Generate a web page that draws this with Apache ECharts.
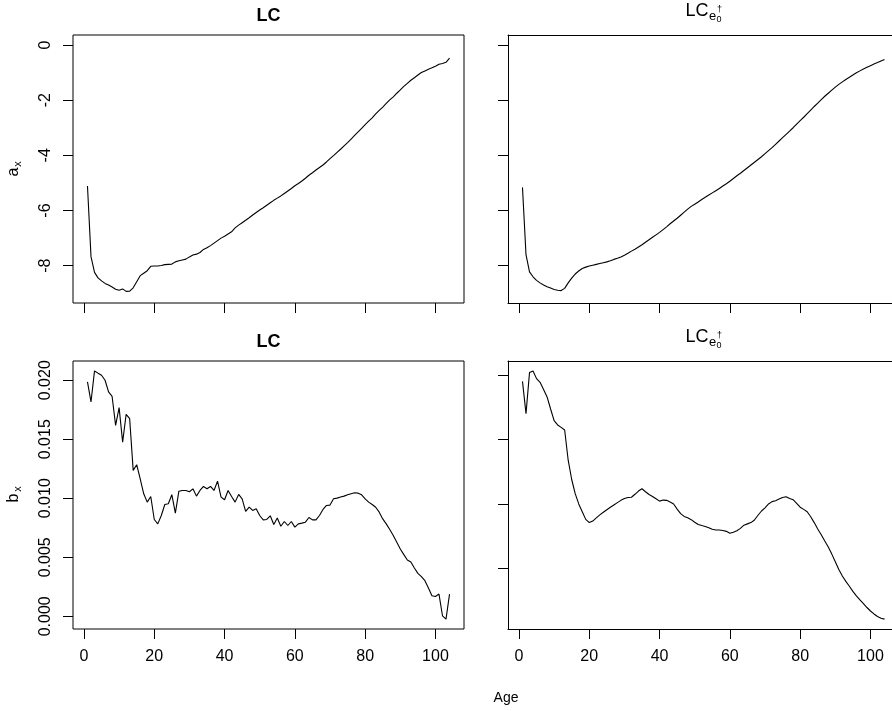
<!DOCTYPE html>
<html>
<head>
<meta charset="utf-8">
<script src="https://cdn.jsdelivr.net/npm/echarts@6/dist/echarts.min.js"></script>
<style>html,body{margin:0;padding:0;background:#fff;}#c{width:892px;height:711px;}</style>
</head>
<body>
<div id="c"></div>
<script>
var ages = [];
for (var i = 1; i <= 104; i++) ages.push(i);

var xTicks = [0, 20, 40, 60, 80, 100];
var axTicks = [0, -2, -4, -6, -8];
var bxTicks = [0.000, 0.005, 0.010, 0.015, 0.020];

var axLC = [-5.11,-7.67,-8.24,-8.44,-8.55,-8.64,-8.70,-8.77,-8.85,-8.89,
-8.84,-8.93,-8.92,-8.80,-8.58,-8.36,-8.27,-8.18,-8.02,-8.01,
-8.01,-7.99,-7.96,-7.95,-7.94,-7.86,-7.82,-7.79,-7.76,-7.68,
-7.61,-7.58,-7.52,-7.41,-7.35,-7.27,-7.18,-7.09,-7.00,-6.93,
-6.85,-6.77,-6.63,-6.53,-6.44,-6.35,-6.26,-6.16,-6.07,-5.98,
-5.90,-5.81,-5.72,-5.63,-5.55,-5.47,-5.38,-5.29,-5.20,-5.10,
-5.02,-4.93,-4.83,-4.72,-4.63,-4.53,-4.44,-4.35,-4.24,-4.12,
-4.01,-3.89,-3.78,-3.66,-3.54,-3.41,-3.28,-3.15,-3.02,-2.89,
-2.76,-2.64,-2.50,-2.37,-2.25,-2.12,-1.99,-1.88,-1.75,-1.63,
-1.50,-1.39,-1.28,-1.19,-1.09,-1.00,-0.94,-0.88,-0.83,-0.77,
-0.70,-0.67,-0.63,-0.48];

var axLCe = [-5.16,-7.60,-8.22,-8.40,-8.53,-8.62,-8.70,-8.76,-8.81,-8.86,
-8.89,-8.90,-8.82,-8.62,-8.45,-8.30,-8.19,-8.10,-8.05,-8.01,
-7.98,-7.95,-7.92,-7.89,-7.86,-7.82,-7.77,-7.73,-7.68,-7.62,
-7.55,-7.47,-7.40,-7.32,-7.24,-7.15,-7.06,-6.97,-6.88,-6.79,
-6.69,-6.59,-6.48,-6.38,-6.28,-6.17,-6.06,-5.95,-5.85,-5.77,
-5.69,-5.60,-5.52,-5.44,-5.36,-5.28,-5.20,-5.11,-5.03,-4.94,
-4.84,-4.74,-4.65,-4.55,-4.45,-4.35,-4.25,-4.15,-4.05,-3.94,
-3.83,-3.72,-3.60,-3.48,-3.36,-3.24,-3.12,-3.00,-2.87,-2.74,
-2.62,-2.49,-2.36,-2.23,-2.11,-1.98,-1.86,-1.75,-1.64,-1.53,
-1.43,-1.34,-1.25,-1.17,-1.09,-1.01,-0.94,-0.87,-0.81,-0.75,
-0.69,-0.64,-0.58,-0.53];

var bxLC = [0.01986,0.01816,0.02079,0.02060,0.02042,0.02000,0.01901,0.01864,0.01618,0.01768,
0.01476,0.01711,0.01675,0.01236,0.01284,0.01165,0.01038,0.00967,0.01015,0.00820,
0.00783,0.00854,0.00947,0.00953,0.01030,0.00874,0.01060,0.01066,0.01066,0.01055,
0.01080,0.01018,0.01066,0.01100,0.01080,0.01100,0.01066,0.01145,0.01010,0.00987,
0.01066,0.01015,0.00967,0.01032,0.00995,0.00888,0.00925,0.00897,0.00910,0.00854,
0.00817,0.00820,0.00851,0.00778,0.00832,0.00763,0.00803,0.00769,0.00803,0.00755,
0.00783,0.00789,0.00797,0.00837,0.00817,0.00817,0.00854,0.00905,0.00939,0.00942,
0.00995,0.01001,0.01010,0.01018,0.01029,0.01038,0.01046,0.01043,0.01029,0.00995,
0.00967,0.00947,0.00924,0.00882,0.00825,0.00783,0.00735,0.00684,0.00627,0.00570,
0.00522,0.00477,0.00460,0.00409,0.00363,0.00335,0.00301,0.00239,0.00174,0.00168,
0.00188,0.00004,-0.00024,0.00188];

var bxLCe = [0.01953,0.01702,0.02021,0.02034,0.01974,0.01945,0.01890,0.01832,0.01738,0.01648,
0.01614,0.01595,0.01575,0.01340,0.01190,0.01080,0.01000,0.00940,0.00880,0.00855,
0.00867,0.00892,0.00915,0.00935,0.00955,0.00974,0.00992,0.01010,0.01028,0.01042,
0.01050,0.01052,0.01075,0.01100,0.01118,0.01095,0.01073,0.01058,0.01040,0.01022,
0.01030,0.01028,0.01015,0.01000,0.00960,0.00925,0.00903,0.00892,0.00878,0.00858,
0.00840,0.00832,0.00825,0.00815,0.00803,0.00797,0.00797,0.00793,0.00787,0.00772,
0.00780,0.00792,0.00810,0.00835,0.00845,0.00855,0.00875,0.00912,0.00945,0.00970,
0.01000,0.01018,0.01025,0.01038,0.01050,0.01056,0.01043,0.01033,0.01005,0.00975,
0.00958,0.00939,0.00900,0.00855,0.00805,0.00760,0.00712,0.00665,0.00610,0.00550,
0.00490,0.00440,0.00398,0.00360,0.00320,0.00285,0.00255,0.00225,0.00195,0.00168,
0.00145,0.00125,0.00112,0.00105];

var FONT = '"Liberation Sans", Arial, Helvetica, sans-serif';
var TICKFS = 16;
var PX_PER_YEAR = 391 / 111.24;
var XMIN = -3.12;
var XMAX_L = 108.12;
var XMAX_R = XMIN + 384 / PX_PER_YEAR;   // right panels are cut by the page edge

function pairs(vals) { return ages.map(function (a, i) { return [a, vals[i]]; }); }

function grid(left, top, width, border) {
  return { left: left, top: top, width: width, height: 268, show: border,
    borderColor: '#000', borderWidth: border ? 1 : 0, backgroundColor: 'transparent',
    containLabel: false, outerBoundsMode: 'none' };
}

var lineBlack = { show: true, onZero: false, lineStyle: { color: '#000', width: 1 } };

function xAx(gi, max, showLabels, showLine) {
  return { type: 'value', gridIndex: gi, min: XMIN, max: max, position: 'bottom',
    axisLine: showLine ? lineBlack : { show: false, onZero: false },
    splitLine: { show: false },
    axisTick: { show: true, inside: false, length: 10, customValues: xTicks, lineStyle: { color: '#000', width: 1 } },
    axisLabel: { show: showLabels, customValues: xTicks, margin: 20, color: '#000', fontSize: TICKFS, fontFamily: FONT } };
}

function xTop(gi, max) {
  return { type: 'value', gridIndex: gi, min: XMIN, max: max, position: 'top',
    axisLine: lineBlack, splitLine: { show: false },
    axisTick: { show: false }, axisLabel: { show: false } };
}

function yAx(gi, min, max, ticks, showLabels, fmt, showLine) {
  return { type: 'value', gridIndex: gi, min: min, max: max, position: 'left',
    axisLine: showLine ? lineBlack : { show: false, onZero: false },
    splitLine: { show: false },
    axisTick: { show: true, inside: false, length: 10, customValues: ticks, lineStyle: { color: '#000', width: 1 } },
    axisLabel: { show: showLabels, customValues: ticks, rotate: 90, margin: 19, color: '#000', fontSize: TICKFS, fontFamily: FONT,
      formatter: fmt } };
}

function lineSeries(xi, yi, vals) {
  return { type: 'line', xAxisIndex: xi, yAxisIndex: yi, data: pairs(vals), showSymbol: false,
    symbol: 'none', lineStyle: { color: '#000', width: 1.1 }, silent: true, animation: false };
}

function fmtAx(v) { return String(v); }
function fmtBx(v) { return v.toFixed(3); }

function txt(x, y, s, fs, weight, extra) {
  var o = { type: 'text', x: x, y: y, silent: true,
    style: { text: s, fontSize: fs, fontFamily: FONT, fontWeight: weight || 'normal', fill: '#000',
      align: (extra && extra.align) || 'left', verticalAlign: 'middle' } };
  if (extra && extra.rotation) o.rotation = extra.rotation;
  return o;
}

function fancyTitle(cx, cy) {
  var left = cx - 18;
  return [
    txt(left, cy, 'LC', 18, 'normal'),
    txt(left + 23.5, cy + 5, 'e', 13, 'normal'),
    txt(left + 31, cy + 9, '0', 9, 'normal'),
    txt(left + 31.5, cy - 1, '\u2020', 9, 'normal')
  ];
}

var graphics = [];
graphics.push(txt(268.5, 16, 'LC', 18, 'bold', { align: 'center' }));
graphics.push(txt(268.5, 342, 'LC', 18, 'bold', { align: 'center' }));
graphics = graphics.concat(fancyTitle(703.5, 11));
graphics = graphics.concat(fancyTitle(703.5, 337));
graphics.push(txt(14, 172, 'a', 16, 'normal', { align: 'center', rotation: Math.PI / 2 }));
graphics.push(txt(18, 164, 'x', 11, 'normal', { align: 'center', rotation: Math.PI / 2 }));
graphics.push(txt(14, 498, 'b', 16, 'normal', { align: 'center', rotation: Math.PI / 2 }));
graphics.push(txt(18, 489, 'x', 11, 'normal', { align: 'center', rotation: Math.PI / 2 }));
graphics.push(txt(506, 698, 'Age', 14, 'normal', { align: 'center' }));

var chart = echarts.init(document.getElementById('c'), null, { renderer: 'canvas' });
chart.setOption({
  animation: false,
  backgroundColor: '#fff',
  grid: [grid(73, 35, 391, true), grid(508, 35, 384, false), grid(73, 361, 391, true), grid(508, 361, 384, false)],
  xAxis: [
    xAx(0, XMAX_L, false, false),
    xAx(1, XMAX_R, false, true),
    xAx(2, XMAX_L, true, false),
    xAx(3, XMAX_R, true, true),
    xTop(1, XMAX_R),
    xTop(3, XMAX_R)
  ],
  yAxis: [
    yAx(0, -9.35, 0.36, axTicks, true, fmtAx, false),
    yAx(1, -9.35, 0.36, axTicks, false, fmtAx, true),
    yAx(2, -0.00108, 0.02163, bxTicks, true, fmtBx, false),
    yAx(3, 0.00028, 0.02111, bxTicks.slice(1), false, fmtBx, true)
  ],
  series: [lineSeries(0, 0, axLC), lineSeries(1, 1, axLCe), lineSeries(2, 2, bxLC), lineSeries(3, 3, bxLCe)],
  graphic: graphics
});
</script>
</body>
</html>
